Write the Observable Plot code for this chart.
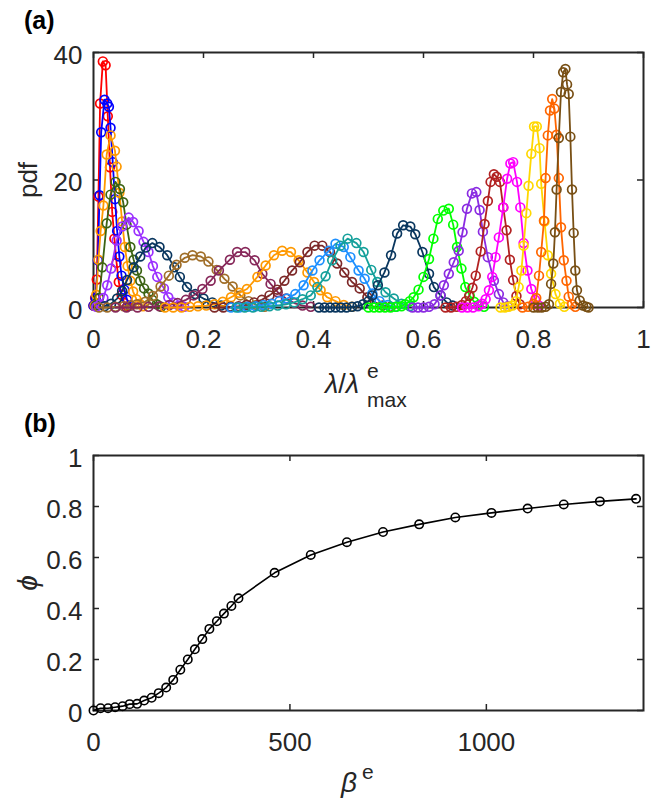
<!DOCTYPE html>
<html><head><meta charset="utf-8">
<script src="https://cdn.jsdelivr.net/npm/d3@7"></script>
<script src="https://cdn.jsdelivr.net/npm/@observablehq/plot@0.6"></script>
<style>
body{margin:0;background:#fff;}
#fig{position:relative;width:658px;height:806px;font-family:"Liberation Sans",Arial,Helvetica,sans-serif;}
</style></head><body><div id="fig"></div>
<script>
// ---------- Panel (a): pdf of lambda / lambda^e_max ----------
const lamRed = [0,0.003,0.006,0.009,0.012,0.017,0.022,0.026,0.030,0.034,0.038,0.042,0.046,0.051,0.056,0.062];
const pdfRed = [0.3,1.5,4.4,17.4,32,38.6,38,30,22,15,10.8,7,4,2,0.7,0.2];
const lamBlue = [0,0.004,0.008,0.011,0.014,0.020,0.025,0.028,0.031,0.035,0.039,0.043,0.047,0.051,0.056,0.061,0.067];
const pdfBlue = [0.3,1.5,7.4,17.6,27.5,32.6,32,31.5,28.2,22.8,17,12,8,5,2.8,1.2,0.3];
const lamOrange = [0.002,0.005,0.009,0.013,0.018,0.024,0.031,0.039,0.042,0.047,0.052,0.057,0.062,0.067,0.072,0.078,0.084,0.09];
const pdfOrange = [0.3,2,7.5,12,16,24,27,24.6,22.1,18,13.5,9.5,6.5,4.2,2.5,1.3,0.6,0.2];
const lamDkGreen = [0.004,0.010,0.016,0.024,0.031,0.040,0.048,0.054,0.060,0.067,0.073,0.079,0.085,0.092,0.1,0.107,0.115,0.123];
const pdfDkGreen = [0.3,1.5,6.3,13.2,17.7,19.7,18.6,16.5,13,9.5,7.5,5.8,4.2,3,2.2,1.2,0.5,0.1];
const lamPurple = [0.005,0.012,0.018,0.025,0.032,0.042,0.052,0.064,0.072,0.082,0.091,0.1,0.108,0.116,0.128,0.136,0.145,0.155,0.165];
const pdfPurple = [0.1,0.5,1.5,3.5,6.1,10.5,12.7,14.1,13.4,12,10.3,8.7,6.5,4.8,3,1.6,0.8,0.3,0.1];
const lamNavy = [0.02,0.032,0.043,0.052,0.061,0.073,0.085,0.095,0.107,0.12,0.134,0.147,0.157,0.17,0.185,0.2,0.216,0.232,0.248];
const pdfNavy = [0.2,0.6,1.4,2.6,4.3,6.3,8,9.4,10.1,9.5,8.2,6.3,4.8,3.2,2.1,1.4,0.8,0.3,0.1];
const lamBrown = [0.01,0.025,0.04,0.055,0.068,0.079,0.094,0.108,0.122,0.137,0.151,0.166,0.18,0.195,0.209,0.224,0.238,0.253,0.267,0.282,0.296,0.311];
const pdfBrown = [0,0,0.1,0.2,0.3,0.5,0.9,1.8,3.3,5,6.7,7.8,8.2,8,7.2,5.9,4.5,3.3,1.9,1,0.4,0.1];
const lamPlum = [0.04,0.06,0.08,0.1,0.12,0.138,0.153,0.168,0.182,0.198,0.213,0.228,0.248,0.261,0.276,0.293,0.307,0.322,0.335,0.35,0.365,0.38,0.395];
const pdfPlum = [0,0,0,0.1,0.2,0.4,0.7,1.2,1.9,2.9,4.2,5.8,7.5,8.7,8.7,7.4,5.3,3.7,2.4,1.4,0.7,0.3,0.1];
const lamOrange2 = [0.13,0.145,0.16,0.175,0.19,0.205,0.22,0.235,0.25,0.265,0.279,0.298,0.313,0.328,0.343,0.359,0.373,0.389,0.401,0.413,0.425,0.44,0.455,0.47];
const pdfOrange2 = [0,0,0,0.1,0.2,0.3,0.5,0.9,1.6,2.3,2.9,4.8,6.6,8.2,8.9,8.7,7.4,5.5,4,2.7,1.6,1,0.4,0.1];
const lamDkRed = [0.22,0.236,0.25,0.264,0.278,0.292,0.306,0.32,0.334,0.347,0.361,0.375,0.389,0.402,0.416,0.43,0.443,0.456,0.47,0.484,0.498,0.512,0.526,0.54];
const pdfDkRed = [0,0,0.1,0.2,0.4,0.8,1.2,1.9,2.8,4.2,5.8,7.1,8.7,9.7,9.7,8.7,6.9,5.5,4,3,1.6,0.8,0.3,0.1];
const lamDodger = [0.25,0.265,0.28,0.295,0.309,0.324,0.338,0.352,0.367,0.382,0.398,0.411,0.428,0.44,0.455,0.467,0.482,0.493,0.507,0.52,0.535,0.55];
const pdfDodger = [0,0,0.1,0.2,0.4,0.6,1,1.4,2.1,3.5,5.8,7.4,8.9,10,9.5,7.9,5.8,4.5,2.2,1,0.4,0.1];
const lamTeal = [0.26,0.275,0.29,0.305,0.32,0.335,0.35,0.365,0.38,0.395,0.407,0.422,0.434,0.449,0.462,0.478,0.491,0.505,0.516,0.531,0.546,0.56,0.575];
const pdfTeal = [0,0,0,0.1,0.2,0.3,0.5,0.8,1.3,1.9,3.2,4.9,7.4,9.7,10.8,10.1,8.7,5.9,4,2.4,1.4,0.6,0.2];
const lamNavy2 = [0.41,0.42,0.43,0.44,0.45,0.46,0.47,0.48,0.49,0.5,0.507,0.517,0.529,0.541,0.552,0.563,0.576,0.585,0.598,0.61,0.619,0.631,0.642,0.653];
const pdfNavy2 = [0,0,0,0,0,0,0.1,0.2,0.5,1,1.9,3.5,5.5,8.2,11.6,12.9,12.7,11.5,8.7,5.3,3.2,1.9,0.8,0.3];
const lamGreen = [0.5,0.51,0.52,0.53,0.54,0.55,0.56,0.567,0.575,0.582,0.591,0.6,0.61,0.618,0.626,0.636,0.646,0.654,0.661,0.669,0.676,0.684,0.692,0.7,0.71];
const pdfGreen = [0,0,0,0,0,0.1,0.2,0.5,1,1.6,2.8,4.8,7.6,10.8,13.9,15.2,15.5,13,9.5,6.1,3.2,1.9,0.9,0.4,0.1];
const lamViolet = [0.58,0.59,0.6,0.61,0.62,0.631,0.637,0.646,0.655,0.664,0.671,0.679,0.688,0.696,0.702,0.708,0.717,0.728,0.737,0.745,0.753];
const pdfViolet = [0,0,0,0.1,0.5,1.9,3.5,5.3,7.1,8.9,11.8,15.5,17.9,18.1,15.3,11.9,7.9,4.2,2.1,0.8,0.2];
const lamFirebrick = [0.64,0.65,0.66,0.67,0.677,0.683,0.689,0.695,0.704,0.711,0.717,0.722,0.728,0.733,0.739,0.745,0.751,0.757,0.763,0.769,0.775];
const pdfFirebrick = [0,0,0.1,0.4,1,1.8,3.1,5,8.8,13.1,16.7,19.7,20.9,20.5,19.7,15.7,12.1,7.5,4.3,1.8,0.5];
const lamMagenta = [0.67,0.68,0.69,0.7,0.707,0.713,0.719,0.725,0.731,0.737,0.745,0.752,0.758,0.763,0.77,0.776,0.782,0.789,0.796,0.803,0.81];
const pdfMagenta = [0,0,0,0.2,0.6,1.3,2.7,4.8,7.9,11,15.7,20.2,22.6,22.8,19.7,15.7,10.1,5.8,2.9,1.2,0.3];
const lamGold = [0.74,0.748,0.755,0.762,0.768,0.773,0.778,0.782,0.787,0.791,0.796,0.801,0.806,0.811,0.814,0.82,0.826,0.832,0.84,0.848,0.856];
const pdfGold = [0,0,0.1,0.3,1,3.2,5.8,9.7,14.8,19.1,24.1,28.4,28.4,25,19.4,13.5,8.2,5.3,2.1,0.6,0.1];
const lamOrangeRed = [0.78,0.79,0.8,0.805,0.81,0.814,0.819,0.822,0.826,0.83,0.834,0.838,0.842,0.846,0.85,0.855,0.86,0.864,0.87,0.876];
const pdfOrangeRed = [0,0.1,0.6,1.5,5,8.7,13.6,20.3,27,30.9,32.7,31.2,27.1,20.3,12.6,7.4,4.2,1.7,0.5,0.1];
const lamBrown2 = [0.80,0.808,0.815,0.822,0.828,0.832,0.836,0.839,0.842,0.846,0.85,0.854,0.858,0.861,0.864,0.867,0.870,0.873,0.876,0.879,0.884,0.89,0.896,0.9];
const pdfBrown2 = [0,0,0,0.1,0.5,3.7,6.9,11.8,18.5,26.6,33.8,36.9,37.4,35,33.5,26.8,18.5,11.7,5.8,2.7,1.1,0.3,0.1,0];

const xTicksA = [0, 0.2, 0.4, 0.6, 0.8, 1];
const yTicksA = [0, 20, 40];

// ---------- Panel (b): phi vs beta^e ----------
const betaE = [0,18,37,55,74,92,111,129,148,166,185,203,221,240,258,277,295,314,332,351,369,461,553,645,737,829,921,1013,1105,1197,1289,1381];
const phiVals = [0,0.009,0.009,0.013,0.017,0.025,0.026,0.039,0.05,0.068,0.09,0.12,0.16,0.2,0.24,0.28,0.32,0.35,0.38,0.41,0.44,0.54,0.61,0.66,0.70,0.73,0.757,0.775,0.792,0.808,0.82,0.83];
const xTicksB = [0, 500, 1000];
const yTicksB = [0, 0.2, 0.4, 0.6, 0.8, 1];

// ---------- styles ----------
const seriesList = [
  [lamRed, pdfRed], [lamBlue, pdfBlue], [lamOrange, pdfOrange], [lamDkGreen, pdfDkGreen],
  [lamPurple, pdfPurple], [lamNavy, pdfNavy], [lamBrown, pdfBrown], [lamPlum, pdfPlum],
  [lamOrange2, pdfOrange2], [lamDkRed, pdfDkRed], [lamDodger, pdfDodger], [lamTeal, pdfTeal],
  [lamNavy2, pdfNavy2], [lamGreen, pdfGreen], [lamViolet, pdfViolet], [lamFirebrick, pdfFirebrick],
  [lamMagenta, pdfMagenta], [lamGold, pdfGold], [lamOrangeRed, pdfOrangeRed], [lamBrown2, pdfBrown2]
];
const seriesColors = ["#ff0000","#0000ff","#ff9900","#3c6414","#9b30ff","#0a375f","#a06e28","#87285a",
  "#ff9900","#7d2828","#1e90ff","#14a09b","#0a375f","#00ff00","#8a2be2","#b22222",
  "#ff00ff","#ffd700","#ff6600","#784f14"];

const AX = "#262626";
const FONT = "'Liberation Sans', Arial, Helvetica, sans-serif";
const W = 658;
const fig = document.getElementById("fig");

function boxTicks(xt, yt, innerW, innerH, len) {
  return [
    Plot.tickX(xt, {x: d => d, insetTop: innerH - len, stroke: AX, strokeWidth: 1.5}),
    Plot.tickX(xt, {x: d => d, insetBottom: innerH - len, stroke: AX, strokeWidth: 1.5}),
    Plot.tickY(yt, {y: d => d, insetRight: innerW - len, stroke: AX, strokeWidth: 1.5}),
    Plot.tickY(yt, {y: d => d, insetLeft: innerW - len, stroke: AX, strokeWidth: 1.5})
  ];
}

// Panel (a)
const hA = 420, mA = {top: 52, right: 15, bottom: 113, left: 93};
const iwA = W - mA.left - mA.right, ihA = hA - mA.top - mA.bottom;
const seriesMarks = seriesList.flatMap(([xs, ys], i) => {
  const rows = xs.map((x, j) => ({x, y: ys[j]}));
  return [
    Plot.line(rows, {x: "x", y: "y", stroke: seriesColors[i], strokeWidth: 1.8}),
    Plot.dot(rows, {x: "x", y: "y", r: 4.4, stroke: seriesColors[i], strokeWidth: 1.7, fill: "none"})
  ];
});
const plotA = Plot.plot({
  width: W, height: hA,
  marginTop: mA.top, marginRight: mA.right, marginBottom: mA.bottom, marginLeft: mA.left,
  style: {position: "absolute", left: "0px", top: "0px", background: "transparent", overflow: "visible", fontFamily: FONT},
  x: {domain: [0, 1]},
  y: {domain: [0, 40]},
  marks: [
    Plot.frame({stroke: AX, strokeWidth: 2}),
    ...boxTicks(xTicksA, yTicksA, iwA, ihA, 6),
    Plot.axisX(xTicksA, {label: null, tickSize: 0, tickPadding: 22, fontSize: 26, fill: AX, tickFormat: d => String(d)}),
    Plot.axisY(yTicksA, {label: null, tickSize: 0, tickPadding: 11, fontSize: 26, fill: AX, dy: 3, tickFormat: d => String(d)}),
    ...seriesMarks
  ]
});
fig.appendChild(plotA);

// Panel (b)
const topB = 420, hB = 386, mB = {top: 35, right: 15, bottom: 96, left: 93};
const iwB = W - mB.left - mB.right, ihB = hB - mB.top - mB.bottom;
const rowsB = betaE.map((b, i) => ({b, p: phiVals[i]}));
const plotB = Plot.plot({
  width: W, height: hB,
  marginTop: mB.top, marginRight: mB.right, marginBottom: mB.bottom, marginLeft: mB.left,
  style: {position: "absolute", left: "0px", top: topB + "px", background: "transparent", overflow: "visible", fontFamily: FONT},
  x: {domain: [0, 1400]},
  y: {domain: [0, 1]},
  marks: [
    Plot.frame({stroke: AX, strokeWidth: 2}),
    ...boxTicks(xTicksB, yTicksB, iwB, ihB, 6),
    Plot.axisX(xTicksB, {label: null, tickSize: 0, tickPadding: 22, fontSize: 26, fill: AX, tickFormat: d => String(d)}),
    Plot.axisY(yTicksB, {label: null, tickSize: 0, tickPadding: 11, fontSize: 26, fill: AX, dy: 3, tickFormat: d => String(d)}),
    Plot.line(rowsB, {x: "b", y: "p", stroke: "#000", strokeWidth: 1.6}),
    Plot.dot(rowsB, {x: "b", y: "p", r: 4.2, stroke: "#000", strokeWidth: 1.6, fill: "none"})
  ]
});
fig.appendChild(plotB);

// Text labels overlay
const ov = document.createElementNS("http://www.w3.org/2000/svg", "svg");
ov.setAttribute("width", W); ov.setAttribute("height", 806);
ov.setAttribute("style", "position:absolute;left:0;top:0;pointer-events:none;font-family:" + FONT);
ov.innerHTML = `
  <text x="24" y="29" font-size="25" font-weight="bold" fill="#000">(a)</text>
  <text transform="translate(37,180) rotate(-90)" text-anchor="middle" font-size="26" fill="${AX}">pdf</text>
  <text x="325" y="393" font-size="27" fill="${AX}"><tspan font-style="italic">λ</tspan>/<tspan font-style="italic">λ</tspan></text>
  <text x="367" y="378" font-size="21" fill="${AX}">e</text>
  <text x="367" y="407" font-size="21" fill="${AX}">max</text>
  <text x="24" y="432" font-size="25" font-weight="bold" fill="#000">(b)</text>
  <text transform="translate(37,583) rotate(-90)" text-anchor="middle" font-size="28" font-style="italic" fill="${AX}">ϕ</text>
  <text x="341" y="792" font-size="28" font-style="italic" fill="${AX}">β</text>
  <text x="362" y="779" font-size="21" fill="${AX}">e</text>
`;
fig.appendChild(ov);
</script></body></html>
